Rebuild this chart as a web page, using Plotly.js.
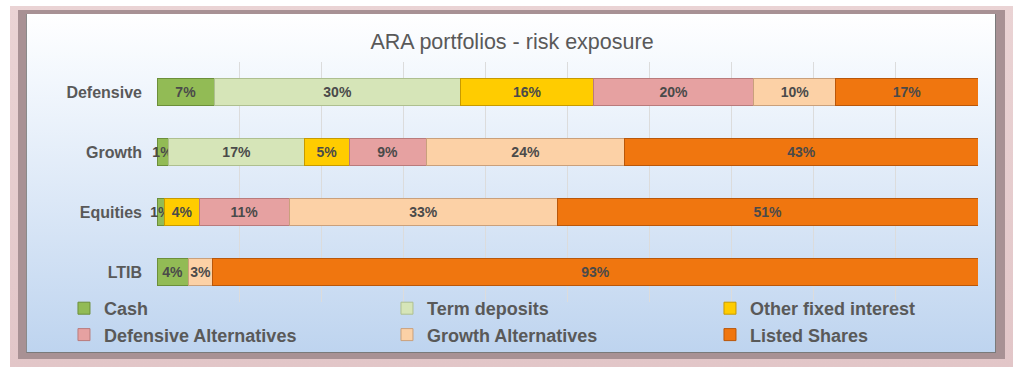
<!DOCTYPE html>
<html>
<head>
<meta charset="utf-8">
<script src="https://cdn.plot.ly/plotly-3.0.1.min.js"></script>
<style>
  html, body { margin: 0; padding: 0; background: #ffffff; }
  #wrap { position: relative; width: 1024px; height: 383px; overflow: hidden; }
  #outer { position: absolute; left: 10px; top: 6px; width: 1003px; height: 361px;
           background: linear-gradient(to bottom, #ead3d4, #e2c6c8); }
  #mid { position: absolute; left: 18px; top: 10px; width: 987px; height: 349px;
         background: #a89194; }
  #inner { position: absolute; left: 26px; top: 14px; width: 968px; height: 338px;
           border-left: 1px solid #8a8a8a; border-right: 1px solid #7a7a7a; border-bottom: 1px solid #7a7a7a;
           background: linear-gradient(to bottom, #ffffff 0%, #f2f7fd 20%, #dce8f7 55%, #bed4ef 100%); }
  #chart { position: absolute; left: 0; top: 0; width: 1024px; height: 383px; }
</style>
</head>
<body>
<div id="wrap">
  <div id="outer"></div>
  <div id="mid"></div>
  <div id="inner"></div>
  <div id="chart"></div>
</div>
<script>
const categories = ["Defensive", "Growth", "Equities", "LTIB"];
const seriesNames = ["Cash", "Term deposits", "Other fixed interest", "Defensive Alternatives", "Growth Alternatives", "Listed Shares"];
const cash = [7.0, 1.4, 0.9, 3.8];
const termDeposits = [30.0, 16.6, 0, 0];
const otherFixedInterest = [16.2, 5.4, 4.3, 0];
const defensiveAlternatives = [19.5, 9.4, 10.9, 0];
const growthAlternatives = [10.0, 24.2, 32.7, 3.0];
const listedShares = [17.3, 43.0, 51.2, 93.2];

const seriesValues = [cash, termDeposits, otherFixedInterest, defensiveAlternatives, growthAlternatives, listedShares];
const fills = ["#92bb55", "#d6e5b8", "#ffcc00", "#e6a1a1", "#fcd1a6", "#f0760f"];
const edges = ["#6c8f3a", "#aebf90", "#c79a00", "#b97b7c", "#c9a07c", "#b9570a"];

const traces = seriesNames.map((name, i) => ({
  type: "bar",
  orientation: "h",
  name: name,
  y: categories,
  x: seriesValues[i],
  text: seriesValues[i].map(v => v > 0 ? Math.round(v) + "%" : ""),
  textposition: "inside",
  insidetextanchor: "middle",
  textangle: 0,
  constraintext: "none",
  cliponaxis: false,
  textfont: { family: "Arial, Liberation Sans, sans-serif", size: 14, color: "#4a4a4a", weight: "bold" },
  marker: { color: fills[i], line: { color: edges[i], width: 1 } },
  hoverinfo: "name+x"
}));

const layout = {
  width: 1024,
  height: 383,
  barmode: "stack",
  bargap: 0.54,
  paper_bgcolor: "rgba(0,0,0,0)",
  plot_bgcolor: "rgba(0,0,0,0)",
  margin: { l: 157, r: 46, t: 62, b: 81, pad: 0, autoexpand: false },
  font: { family: "Arial, Liberation Sans, sans-serif", color: "#595959" },
  title: {
    text: "ARA portfolios - risk exposure",
    font: { family: "Arial, Liberation Sans, sans-serif", size: 21.5, color: "#595959" },
    x: 0.5, xanchor: "center", y: 0.893, yanchor: "middle", yref: "container"
  },
  xaxis: {
    range: [0, 100],
    dtick: 10,
    showticklabels: false,
    showgrid: true,
    gridcolor: "#dcdcdc",
    gridwidth: 1,
    zeroline: false,
    showline: false,
    fixedrange: true
  },
  yaxis: {
    autorange: "reversed",
    showgrid: false,
    zeroline: false,
    showline: false,
    ticks: "",
    ticklabelstandoff: 14,
    tickfont: { family: "Arial, Liberation Sans, sans-serif", size: 16, color: "#595959", weight: "bold" },
    fixedrange: true
  },
  showlegend: true,
  legend: {
    orientation: "h",
    x: -0.1133, xanchor: "left",
    y: -0.2125, yanchor: "bottom",
    entrywidth: 278,
    entrywidthmode: "pixels",
    traceorder: "normal",
    bgcolor: "rgba(0,0,0,0)",
    font: { family: "Arial, Liberation Sans, sans-serif", size: 18, color: "#595959", weight: "bold" },
    itemwidth: 30,
    tracegroupgap: 0
  }
};

Plotly.newPlot("chart", traces, layout, { displayModeBar: false, staticPlot: true });
</script>
</body>
</html>
